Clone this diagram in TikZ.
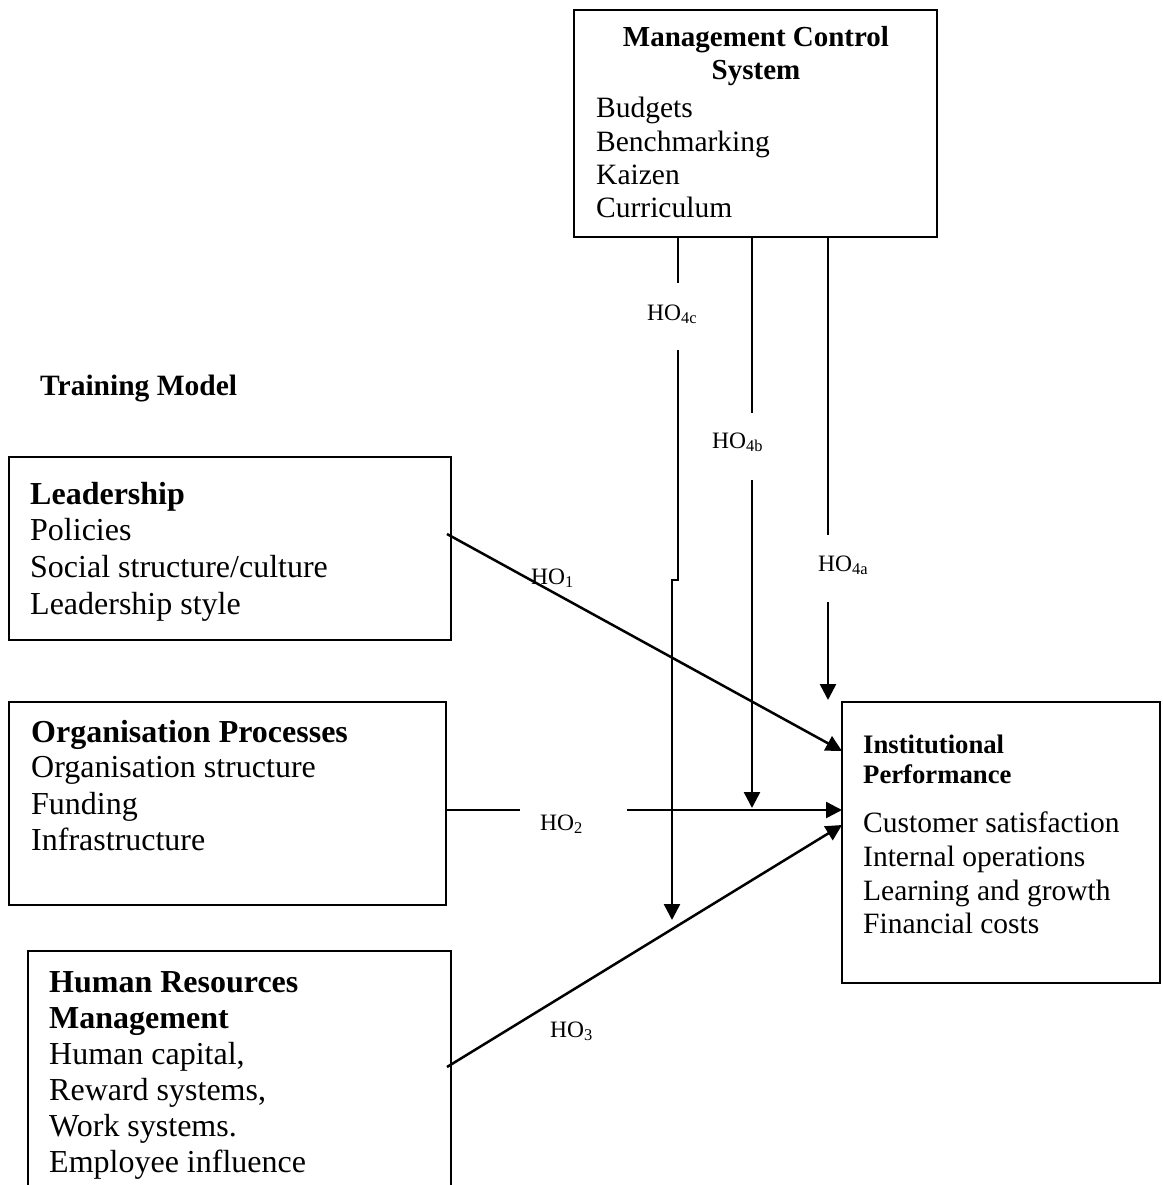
\documentclass[tikz,border=0pt]{standalone}
\usepackage{fontspec}
\setmainfont{Liberation Serif}
\usetikzlibrary{arrows.meta}
\begin{document}
\begin{tikzpicture}[x=1pt,y=-1pt,
  box/.style={draw, line width=2.5pt, inner sep=0pt, outer sep=0pt, rectangle, anchor=north west},
  conn/.style={line width=2.5pt},
  arr/.style={line width=2.5pt, -{Triangle[length=16pt,width=16pt]}},
  txt/.style={anchor=base west, inner sep=0pt},
  ctxt/.style={anchor=base, inner sep=0pt},
  big/.style={font=\fontsize{32}{38}\selectfont},
  bigb/.style={font=\fontsize{32}{38}\selectfont\bfseries},
  mid/.style={font=\fontsize{29.5}{34}\selectfont},
  midb/.style={font=\fontsize{29}{34}\selectfont\bfseries},
  smb/.style={font=\fontsize{26.7}{30}\selectfont\bfseries},
  hol/.style={anchor=base west, inner sep=0pt, font=\fontsize{23.5}{26}\selectfont}
]
\useasboundingbox (0,0) rectangle (1162,1185);

% boxes
\node[box, minimum width=363pt, minimum height=227pt] (mcs) at (574,10) {};
\node[box, minimum width=442pt, minimum height=183pt] (lead) at (9,457) {};
\node[box, minimum width=437pt, minimum height=203pt] (org) at (9,702) {};
\node[box, minimum width=318pt, minimum height=281pt] (inst) at (842,702) {};
\draw[line width=2.5pt] (28,1190) -- (28,951) -- (451,951) -- (451,1190);

% texts: Management Control System
\node[ctxt, midb] (m1) at (756,47) {Management Control};
\node[ctxt, midb] (m2) at (756,80) {System};
\node[txt, mid] (m3) at (596,118) {Budgets};
\node[txt, mid] (m4) at (596,152) {Benchmarking};
\node[txt, mid] (m5) at (596,185) {Kaizen};
\node[txt, mid] (m6) at (596,218) {Curriculum};

% Training model
\node[txt, font=\fontsize{29.5}{34}\selectfont\bfseries] (tm) at (40,395) {Training Model};

% Leadership
\node[txt, bigb] (l1) at (30,504) {Leadership};
\node[txt, big] (l2) at (30,540) {Policies};
\node[txt, big] (l3) at (30,577) {Social structure/culture};
\node[txt, big] (l4) at (30,614) {Leadership style};

% Organisation processes
\node[txt, bigb] (o1) at (31,742) {Organisation Processes};
\node[txt, big] (o2) at (31,777) {Organisation structure};
\node[txt, big] (o3) at (31,814) {Funding};
\node[txt, big] (o4) at (31,850) {Infrastructure};

% HRM
\node[txt, bigb] (h1) at (49,992) {Human Resources};
\node[txt, bigb] (h2) at (49,1028) {Management};
\node[txt, big] (h3) at (49,1064) {Human capital,};
\node[txt, big] (h4) at (49,1100) {Reward systems,};
\node[txt, big] (h5) at (49,1136) {Work systems.};
\node[txt, big] (h6) at (49,1172) {Employee influence};

% Institutional performance
\node[txt, smb] (i1) at (863,753) {Institutional};
\node[txt, smb] (i2) at (863,783) {Performance};
\node[txt, mid] (i3) at (863,832) {Customer satisfaction};
\node[txt, mid] (i4) at (863,866) {Internal operations};
\node[txt, mid] (i5) at (863,900) {Learning and growth};
\node[txt, mid] (i6) at (863,933) {Financial costs};

% labels
\node[hol] (ho4c) at (647,320) {HO\textsubscript{4c}};
\node[hol] (ho4b) at (712,448) {HO\textsubscript{4b}};
\node[hol] (ho4a) at (818,571) {HO\textsubscript{4a}};
\node[hol] (ho1) at (531,584) {HO\textsubscript{1}};
\node[hol] (ho2) at (540,830) {HO\textsubscript{2}};
\node[hol] (ho3) at (550,1037) {HO\textsubscript{3}};

% connector coordinates
\coordinate (c4s) at (mcs.south -| 678,0);
\coordinate (c4e) at (678,283);
\coordinate (c4r) at (678,350);
\coordinate (c4j) at (678,580);
\coordinate (c4k) at (672,580);
\coordinate (c4t) at (672,920);

\coordinate (b4s) at (mcs.south -| 752,0);
\coordinate (b4e) at (752,413);
\coordinate (b4r) at (752,480);
\coordinate (b4t) at (752,808);

\coordinate (a4s) at (mcs.south -| 828,0);
\coordinate (a4e) at (828,535);
\coordinate (a4r) at (828,602);
\coordinate (a4t) at (828,700);

\coordinate (s1) at (447,534);
\coordinate (t1) at (inst.west |- 0,751);
\coordinate (s2) at (org.east |- 0,810);
\coordinate (e2) at (520,810);
\coordinate (r2) at (627,810);
\coordinate (t2) at (inst.west |- 0,810);
\coordinate (s3) at (447,1067);
\coordinate (t3) at (inst.west |- 0,825);

% connectors
\draw[conn] (c4s) -- (c4e);
\draw[arr] (c4r) -- (c4j) -- (c4k) -- (c4t);
\draw[conn] (b4s) -- (b4e);
\draw[arr] (b4r) -- (b4t);
\draw[conn] (a4s) -- (a4e);
\draw[arr] (a4r) -- (a4t);
\draw[arr] (s1) -- (t1);
\draw[conn] (s2) -- (e2);
\draw[arr] (r2) -- (t2);
\draw[arr] (s3) -- (t3);
\end{tikzpicture}
\end{document}
